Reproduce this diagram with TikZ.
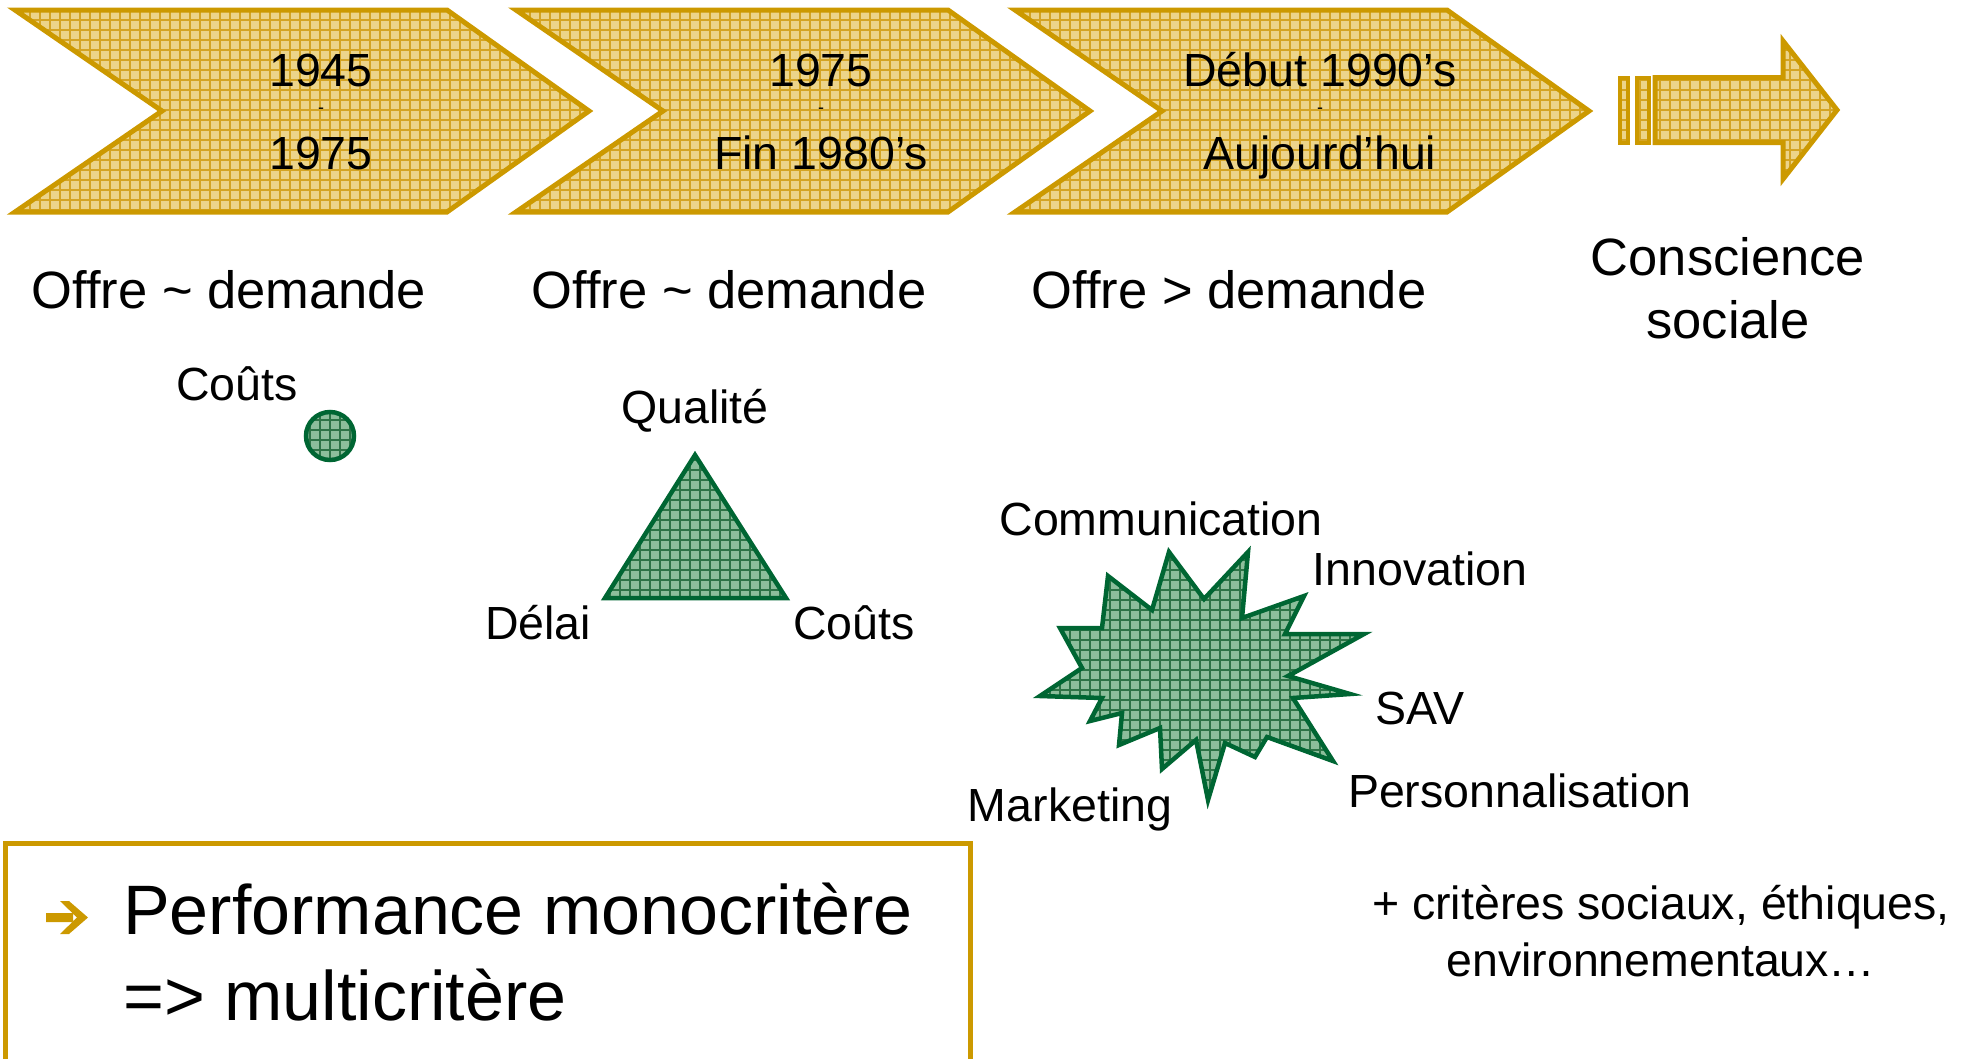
\documentclass[tikz,border=0pt]{standalone}
\usepackage{fontspec}
\setmainfont{Liberation Sans}
\definecolor{gold}{RGB}{204,153,0}
\definecolor{goldfill}{RGB}{236,212,138}
\definecolor{goldgrid}{RGB}{212,164,36}
\definecolor{dgreen}{RGB}{0,102,51}
\definecolor{gfill}{RGB}{140,190,155}
\definecolor{ggrid}{RGB}{45,115,70}
\newcommand\chevpath[1]{(#1,10) -- (#1+432,10) -- (#1+574,111) -- (#1+432,212) -- (#1,212) -- (#1+147,111) -- cycle}
% #1 path, #2 fill colour, #3 grid colour, #4-#7 bbox x0,y0,x1,y1
\newcommand\patfill[7]{\begin{scope}\clip #1; \fill[#2] (#4,#5) rectangle (#6,#7);
  \foreach \gx in {#4,...,#6}{\pgfmathparse{int(mod(\gx,10))}\ifnum\pgfmathresult=0 \draw[#3,line width=1.1pt] (\gx,#5) -- (\gx,#7);\fi}
  \foreach \gy in {#5,...,#7}{\pgfmathparse{int(mod(\gy,10))}\ifnum\pgfmathresult=0 \draw[#3,line width=1.1pt] (#4,\gy) -- (#6,\gy);\fi}
  \end{scope}}
\newcommand\starpath{(1169,552) -- (1204,599) -- (1248,552) -- (1242,618) -- (1304,596) -- (1285,634) -- (1364,634) -- (1288,676) -- (1350,694) -- (1293,698) -- (1333,761) -- (1267,737) -- (1255,757) -- (1225,743) -- (1208,800) -- (1196,740) -- (1162,769) -- (1160,728) -- (1119,745) -- (1122,713) -- (1090,721) -- (1102,698) -- (1040,696) -- (1082,668) -- (1060,628) -- (1102,628) -- (1108,576) -- (1152,610) -- cycle}
\newcommand\arrowpath{(1655,77.5) -- (1783,77.5) -- (1783,41) -- (1837,110) -- (1783,179) -- (1783,142.5) -- (1655,142.5) -- cycle}
\begin{document}
\begin{tikzpicture}[x=1pt,y=-1pt,
  goldline/.style={draw=gold,line width=5pt,line join=miter},
  greenline/.style={draw=dgreen,line width=4.5pt,line join=miter},
  chevtxt/.style={font=\fontsize{46.5}{56}\selectfont,inner sep=0pt,anchor=base},
  dashtxt/.style={font=\fontsize{18}{20}\selectfont,inner sep=0pt},
  bigtxt/.style={font=\fontsize{52.5}{63}\selectfont,inner sep=0pt,anchor=base},
  lbl/.style={font=\fontsize{46.5}{57}\selectfont,inner sep=0pt,anchor=base},
  hugetxt/.style={font=\fontsize{70}{86}\selectfont,inner sep=0pt,anchor=base west}]
\useasboundingbox (0,0) rectangle (1975,1058);

% chevrons
\patfill{\chevpath{15}}{goldfill}{goldgrid}{10}{0}{600}{220}
\draw[goldline] \chevpath{15};
\patfill{\chevpath{516}}{goldfill}{goldgrid}{510}{0}{1100}{220}
\draw[goldline] \chevpath{516};
\patfill{\chevpath{1015}}{goldfill}{goldgrid}{1010}{0}{1600}{220}
\draw[goldline] \chevpath{1015};
\node[chevtxt] (c1a) at (321,86) {1945};
\node[dashtxt] (c1b) at (321,111) {-};
\node[chevtxt] (c1c) at (321,169) {1975};
\node[chevtxt] (c2a) at (821,86) {1975};
\node[dashtxt] (c2b) at (821,111) {-};
\node[chevtxt] (c2c) at (821,169) {Fin 1980’s};
\node[chevtxt] (c3a) at (1320,86) {Début 1990’s};
\node[dashtxt] (c3b) at (1320,111) {-};
\node[chevtxt] (c3c) at (1320,169) {Aujourd’hui};

% conscience arrow
\patfill{(1620,77.5) rectangle (1628,142.5)}{goldfill}{goldgrid}{1610}{70}{1660}{150}
\draw[draw=gold,line width=4pt] (1620,77.5) rectangle (1628,142.5);
\patfill{(1637,77.5) rectangle (1649,142.5)}{goldfill}{goldgrid}{1630}{70}{1660}{150}
\draw[draw=gold,line width=4pt] (1637,77.5) rectangle (1649,142.5);
\patfill{\arrowpath}{goldfill}{goldgrid}{1650}{30}{1850}{190}
\draw[goldline] \arrowpath;

% offre / demande
\node[bigtxt] (od1) at (229,308) {Offre \char`~\ demande};
\node[bigtxt] (od2) at (729,308) {Offre \char`~\ demande};
\node[bigtxt] (od3) at (1229,308) {Offre > demande};
\node[bigtxt] (cs1) at (1728,275) {Conscience};
\node[bigtxt] (cs2) at (1728,338) {sociale};

% circle
\patfill{(330,436) circle[radius=24pt]}{gfill}{ggrid}{300}{400}{360}{470}
\draw[greenline] (330,436) circle[radius=24pt];
\node[lbl] (cout1) at (237,400) {Coûts};

% triangle
\patfill{(695,455) -- (786,598) -- (605,598) -- cycle}{gfill}{ggrid}{600}{450}{790}{600}
\draw[greenline] (695,455) -- (786,598) -- (605,598) -- cycle;
\node[lbl] (qual) at (695,423) {Qualité};
\node[lbl] (delai) at (538,639) {Délai};
\node[lbl] (cout2) at (854,639) {Coûts};

% star
\patfill{\starpath}{gfill}{ggrid}{1030}{540}{1370}{810}
\draw[greenline] \starpath;
\node[lbl] (comm) at (1161,535) {Communication};
\node[lbl] (inno) at (1420,585) {Innovation};
\node[lbl] (sav) at (1420,724) {SAV};
\node[lbl] (perso) at (1520,807) {Personnalisation};
\node[lbl] (mark) at (1070,821) {Marketing};
\node[lbl] (crit1) at (1661,919) {+ critères sociaux, éthiques,};
\node[lbl] (crit2) at (1661,976) {environnementaux…};

% bottom box
\draw[draw=gold,line width=5pt] (5,843.5) rectangle (970,1061);
\fill[gold] (46,913) rectangle (73,922) (60,901) -- (69,901) -- (88,917.5) -- (69,934) -- (60,934) -- (77,917.5) -- cycle;
\node[hugetxt] (perf1) at (123,934) {Performance monocritère};
\node[hugetxt] (perf2) at (123,1020) {=> multicritère};
\end{tikzpicture}
\end{document}
